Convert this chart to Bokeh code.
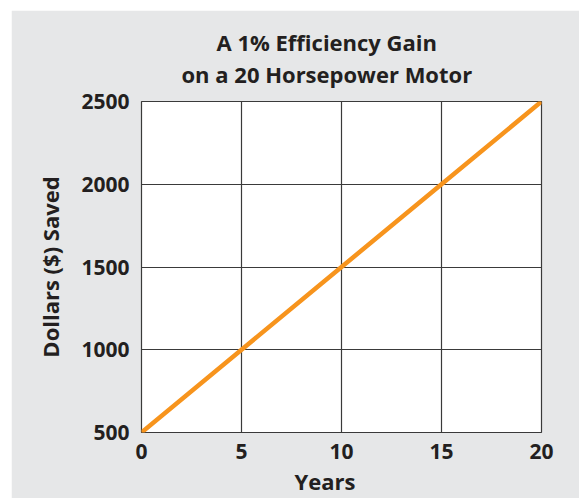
from bokeh.plotting import figure
from bokeh.models import Range1d, Title, FixedTicker
from bokeh.embed import file_html
from bokeh.resources import INLINE

years = [0, 5, 10, 15, 20]
dollars_saved = [500, 1000, 1500, 2000, 2500]
x_ticks = [0, 5, 10, 15, 20]
y_ticks = [500, 1000, 1500, 2000, 2500]
title_lines = ["A 1% Efficiency Gain", "on a 20 Horsepower Motor"]
x_label = "Years"
y_label = "Dollars ($) Saved"

BG = "#e6e7e8"
INK = "#231f20"
ORANGE = "#f7941d"
FONT = "Open Sans"
FS = "22px"

p = figure(width=568, height=488, output_backend="svg", toolbar_location=None,
           x_range=Range1d(0, 20), y_range=Range1d(500, 2500),
           min_border_left=130, min_border_right=38, min_border_top=91, min_border_bottom=66,
           background_fill_color="white", border_fill_color=BG,
           margin=(10, 0, 0, 11))

p.outline_line_color = "#3a3a3a"
p.outline_line_width = 1.2

for ax, ticks in ((p.xaxis[0], x_ticks), (p.yaxis[0], y_ticks)):
    ax.ticker = FixedTicker(ticks=ticks)
    ax.axis_line_color = None
    ax.major_tick_line_color = None
    ax.minor_tick_line_color = None
    ax.major_label_text_font = FONT
    ax.major_label_text_font_style = "bold"
    ax.major_label_text_font_size = "21px"
    ax.major_label_text_color = INK
p.xaxis.major_label_standoff = 5
p.yaxis.major_label_standoff = 6

p.yaxis.axis_label = y_label
p.yaxis.axis_label_text_font = FONT
p.yaxis.axis_label_text_font_style = "bold"
p.yaxis.axis_label_text_font_size = FS
p.yaxis.axis_label_text_color = INK
p.yaxis.axis_label_standoff = 13

p.xgrid.ticker = FixedTicker(ticks=x_ticks)
p.ygrid.ticker = FixedTicker(ticks=y_ticks)
for g in (p.xgrid[0], p.ygrid[0]):
    g.grid_line_color = "#3a3a3a"
    g.grid_line_width = 1.2

p.line(years, dollars_saved, line_color=ORANGE, line_width=4.5)

def style_title(t, size=FS):
    t.text_font = FONT
    t.text_font_style = "bold"
    t.text_font_size = size
    t.text_color = INK
    t.align = "left"

p.title.text = title_lines[0]
style_title(p.title)
p.title.offset = 75
p.title.standoff = 0

spacer = Title(text=" ")
style_title(spacer, "1px")
spacer.standoff = 10
p.add_layout(spacer, "above")

t2 = Title(text=title_lines[1])
style_title(t2)
t2.offset = 40
t2.standoff = 0
p.add_layout(t2, "above")

tx = Title(text=x_label)
style_title(tx)
tx.offset = 153
tx.standoff = 4
p.add_layout(tx, "below")

open("out.html", "w").write(file_html(p, INLINE))
